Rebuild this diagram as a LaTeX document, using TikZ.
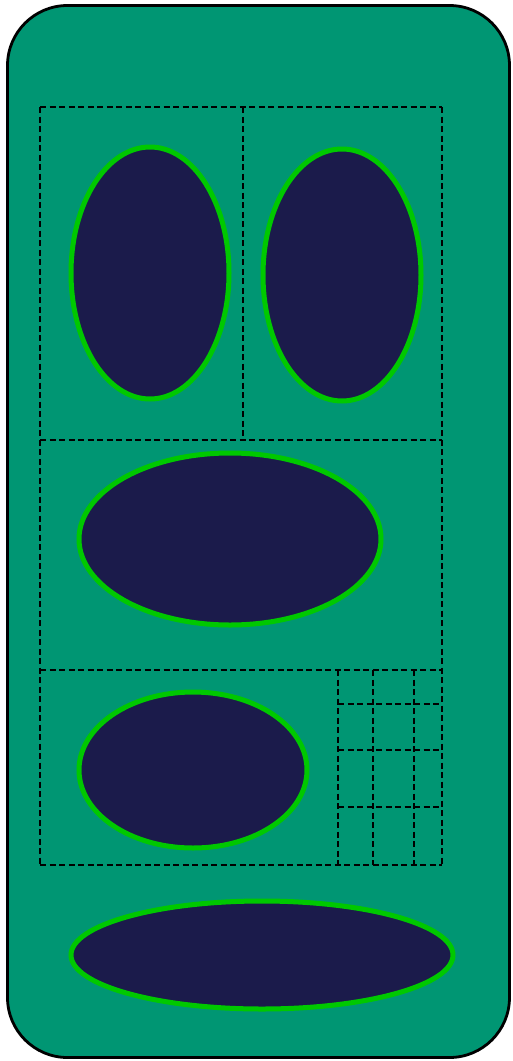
\documentclass[tikz,border=0pt]{standalone}
\usetikzlibrary{shapes.geometric}
\definecolor{bggreen}{RGB}{0,150,115}
\definecolor{navy}{RGB}{27,27,75}
\definecolor{rimgreen}{RGB}{0,200,0}
\begin{document}
\begin{tikzpicture}[x=1pt,y=-1pt,
  cell/.style={draw=black,line width=2.8pt,dash pattern=on 6pt off 3.5pt},
  blob/.style={ellipse,draw=rimgreen,fill=navy,line width=5pt,inner sep=0pt}]
\useasboundingbox (0,0) rectangle (512,1061);
\node[draw=black,line width=2.8pt,fill=bggreen,rounded corners=60pt,minimum width=502pt,minimum height=1052pt,inner sep=0pt] (frame) at (258.5,531.5) {};
% dashed layout lines
\foreach \y in {107,440,670,865} \draw[cell] (40,\y) -- (442,\y);
\foreach \y in {704,750,807} \draw[cell] (338,\y) -- (442,\y);
\draw[cell] (40,107) -- (40,865);
\draw[cell] (442,107) -- (442,865);
\draw[cell] (243,107) -- (243,440);
\foreach \x in {338,373,414} \draw[cell] (\x,670) -- (\x,865);
% ellipses
\node[blob,minimum width=158pt,minimum height=252pt] (e1) at (150,273) {};
\node[blob,minimum width=158pt,minimum height=252pt] (e2) at (342,275) {};
\node[blob,minimum width=302pt,minimum height=172pt] (e3) at (230,539) {};
\node[blob,minimum width=228pt,minimum height=156pt] (e4) at (193,770) {};
\node[blob,minimum width=382pt,minimum height=108pt] (e5) at (262,955) {};
\end{tikzpicture}
\end{document}
